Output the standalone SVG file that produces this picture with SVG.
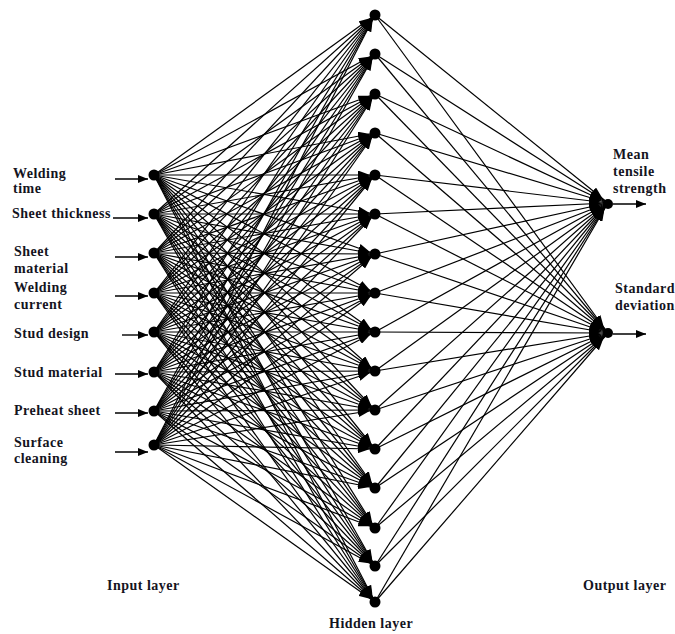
<svg xmlns="http://www.w3.org/2000/svg" width="675" height="634" viewBox="0 0 675 634">
<style>
text{font-family:"Liberation Serif","Times New Roman",serif;font-weight:bold;font-size:14px;fill:#14141e;letter-spacing:0.5px}
.c line{stroke:#000;stroke-width:1.2}
.ih line{marker-end:url(#ah1)}
.ho line{marker-end:url(#ah2)}
.io line{stroke:#000;stroke-width:1.4;marker-end:url(#ah3)}
.n{fill:#000}
</style>
<defs>
<marker id="ah1" markerUnits="userSpaceOnUse" markerWidth="12" markerHeight="9" refX="17" refY="4.5" orient="auto"><path d="M0,0 L12,4.5 L0,9 z" fill="#000"/></marker>
<marker id="ah2" markerUnits="userSpaceOnUse" markerWidth="12" markerHeight="9" refX="19" refY="4.5" orient="auto"><path d="M0,0 L12,4.5 L0,9 z" fill="#000"/></marker>
<marker id="ah3" markerUnits="userSpaceOnUse" markerWidth="10" markerHeight="8" refX="10" refY="4" orient="auto"><path d="M0,0 L10,4 L0,8 z" fill="#000"/></marker>
</defs>
<rect width="675" height="634" fill="#fff"/>
<g id="connectors" class="c">
<g class="ih">
<line x1="154" y1="175" x2="375" y2="15"/><line x1="154" y1="175" x2="375" y2="54"/><line x1="154" y1="175" x2="375" y2="94"/><line x1="154" y1="175" x2="375" y2="133"/><line x1="154" y1="175" x2="375" y2="175"/><line x1="154" y1="175" x2="375" y2="214"/><line x1="154" y1="175" x2="375" y2="254"/><line x1="154" y1="175" x2="375" y2="293"/><line x1="154" y1="175" x2="375" y2="332"/><line x1="154" y1="175" x2="375" y2="371"/><line x1="154" y1="175" x2="375" y2="410"/><line x1="154" y1="175" x2="375" y2="449"/><line x1="154" y1="175" x2="375" y2="488"/><line x1="154" y1="175" x2="375" y2="528"/><line x1="154" y1="175" x2="375" y2="566"/><line x1="154" y1="175" x2="375" y2="602"/>
<line x1="154" y1="214" x2="375" y2="15"/><line x1="154" y1="214" x2="375" y2="54"/><line x1="154" y1="214" x2="375" y2="94"/><line x1="154" y1="214" x2="375" y2="133"/><line x1="154" y1="214" x2="375" y2="175"/><line x1="154" y1="214" x2="375" y2="214"/><line x1="154" y1="214" x2="375" y2="254"/><line x1="154" y1="214" x2="375" y2="293"/><line x1="154" y1="214" x2="375" y2="332"/><line x1="154" y1="214" x2="375" y2="371"/><line x1="154" y1="214" x2="375" y2="410"/><line x1="154" y1="214" x2="375" y2="449"/><line x1="154" y1="214" x2="375" y2="488"/><line x1="154" y1="214" x2="375" y2="528"/><line x1="154" y1="214" x2="375" y2="566"/><line x1="154" y1="214" x2="375" y2="602"/>
<line x1="154" y1="253" x2="375" y2="15"/><line x1="154" y1="253" x2="375" y2="54"/><line x1="154" y1="253" x2="375" y2="94"/><line x1="154" y1="253" x2="375" y2="133"/><line x1="154" y1="253" x2="375" y2="175"/><line x1="154" y1="253" x2="375" y2="214"/><line x1="154" y1="253" x2="375" y2="254"/><line x1="154" y1="253" x2="375" y2="293"/><line x1="154" y1="253" x2="375" y2="332"/><line x1="154" y1="253" x2="375" y2="371"/><line x1="154" y1="253" x2="375" y2="410"/><line x1="154" y1="253" x2="375" y2="449"/><line x1="154" y1="253" x2="375" y2="488"/><line x1="154" y1="253" x2="375" y2="528"/><line x1="154" y1="253" x2="375" y2="566"/><line x1="154" y1="253" x2="375" y2="602"/>
<line x1="154" y1="293" x2="375" y2="15"/><line x1="154" y1="293" x2="375" y2="54"/><line x1="154" y1="293" x2="375" y2="94"/><line x1="154" y1="293" x2="375" y2="133"/><line x1="154" y1="293" x2="375" y2="175"/><line x1="154" y1="293" x2="375" y2="214"/><line x1="154" y1="293" x2="375" y2="254"/><line x1="154" y1="293" x2="375" y2="293"/><line x1="154" y1="293" x2="375" y2="332"/><line x1="154" y1="293" x2="375" y2="371"/><line x1="154" y1="293" x2="375" y2="410"/><line x1="154" y1="293" x2="375" y2="449"/><line x1="154" y1="293" x2="375" y2="488"/><line x1="154" y1="293" x2="375" y2="528"/><line x1="154" y1="293" x2="375" y2="566"/><line x1="154" y1="293" x2="375" y2="602"/>
<line x1="154" y1="332" x2="375" y2="15"/><line x1="154" y1="332" x2="375" y2="54"/><line x1="154" y1="332" x2="375" y2="94"/><line x1="154" y1="332" x2="375" y2="133"/><line x1="154" y1="332" x2="375" y2="175"/><line x1="154" y1="332" x2="375" y2="214"/><line x1="154" y1="332" x2="375" y2="254"/><line x1="154" y1="332" x2="375" y2="293"/><line x1="154" y1="332" x2="375" y2="332"/><line x1="154" y1="332" x2="375" y2="371"/><line x1="154" y1="332" x2="375" y2="410"/><line x1="154" y1="332" x2="375" y2="449"/><line x1="154" y1="332" x2="375" y2="488"/><line x1="154" y1="332" x2="375" y2="528"/><line x1="154" y1="332" x2="375" y2="566"/><line x1="154" y1="332" x2="375" y2="602"/>
<line x1="154" y1="372" x2="375" y2="15"/><line x1="154" y1="372" x2="375" y2="54"/><line x1="154" y1="372" x2="375" y2="94"/><line x1="154" y1="372" x2="375" y2="133"/><line x1="154" y1="372" x2="375" y2="175"/><line x1="154" y1="372" x2="375" y2="214"/><line x1="154" y1="372" x2="375" y2="254"/><line x1="154" y1="372" x2="375" y2="293"/><line x1="154" y1="372" x2="375" y2="332"/><line x1="154" y1="372" x2="375" y2="371"/><line x1="154" y1="372" x2="375" y2="410"/><line x1="154" y1="372" x2="375" y2="449"/><line x1="154" y1="372" x2="375" y2="488"/><line x1="154" y1="372" x2="375" y2="528"/><line x1="154" y1="372" x2="375" y2="566"/><line x1="154" y1="372" x2="375" y2="602"/>
<line x1="154" y1="411" x2="375" y2="15"/><line x1="154" y1="411" x2="375" y2="54"/><line x1="154" y1="411" x2="375" y2="94"/><line x1="154" y1="411" x2="375" y2="133"/><line x1="154" y1="411" x2="375" y2="175"/><line x1="154" y1="411" x2="375" y2="214"/><line x1="154" y1="411" x2="375" y2="254"/><line x1="154" y1="411" x2="375" y2="293"/><line x1="154" y1="411" x2="375" y2="332"/><line x1="154" y1="411" x2="375" y2="371"/><line x1="154" y1="411" x2="375" y2="410"/><line x1="154" y1="411" x2="375" y2="449"/><line x1="154" y1="411" x2="375" y2="488"/><line x1="154" y1="411" x2="375" y2="528"/><line x1="154" y1="411" x2="375" y2="566"/><line x1="154" y1="411" x2="375" y2="602"/>
<line x1="154" y1="445" x2="375" y2="15"/><line x1="154" y1="445" x2="375" y2="54"/><line x1="154" y1="445" x2="375" y2="94"/><line x1="154" y1="445" x2="375" y2="133"/><line x1="154" y1="445" x2="375" y2="175"/><line x1="154" y1="445" x2="375" y2="214"/><line x1="154" y1="445" x2="375" y2="254"/><line x1="154" y1="445" x2="375" y2="293"/><line x1="154" y1="445" x2="375" y2="332"/><line x1="154" y1="445" x2="375" y2="371"/><line x1="154" y1="445" x2="375" y2="410"/><line x1="154" y1="445" x2="375" y2="449"/><line x1="154" y1="445" x2="375" y2="488"/><line x1="154" y1="445" x2="375" y2="528"/><line x1="154" y1="445" x2="375" y2="566"/><line x1="154" y1="445" x2="375" y2="602"/>
</g>
<g class="ho">
<line x1="375" y1="15" x2="608" y2="203"/><line x1="375" y1="54" x2="608" y2="203"/><line x1="375" y1="94" x2="608" y2="203"/><line x1="375" y1="133" x2="608" y2="203"/><line x1="375" y1="175" x2="608" y2="203"/><line x1="375" y1="214" x2="608" y2="203"/><line x1="375" y1="254" x2="608" y2="203"/><line x1="375" y1="293" x2="608" y2="203"/><line x1="375" y1="332" x2="608" y2="203"/><line x1="375" y1="371" x2="608" y2="203"/><line x1="375" y1="410" x2="608" y2="203"/><line x1="375" y1="449" x2="608" y2="203"/><line x1="375" y1="488" x2="608" y2="203"/><line x1="375" y1="528" x2="608" y2="203"/><line x1="375" y1="566" x2="608" y2="203"/><line x1="375" y1="602" x2="608" y2="203"/>
<line x1="375" y1="15" x2="608" y2="333"/><line x1="375" y1="54" x2="608" y2="333"/><line x1="375" y1="94" x2="608" y2="333"/><line x1="375" y1="133" x2="608" y2="333"/><line x1="375" y1="175" x2="608" y2="333"/><line x1="375" y1="214" x2="608" y2="333"/><line x1="375" y1="254" x2="608" y2="333"/><line x1="375" y1="293" x2="608" y2="333"/><line x1="375" y1="332" x2="608" y2="333"/><line x1="375" y1="371" x2="608" y2="333"/><line x1="375" y1="410" x2="608" y2="333"/><line x1="375" y1="449" x2="608" y2="333"/><line x1="375" y1="488" x2="608" y2="333"/><line x1="375" y1="528" x2="608" y2="333"/><line x1="375" y1="566" x2="608" y2="333"/><line x1="375" y1="602" x2="608" y2="333"/>
</g>
<g class="io">
<line x1="115" y1="179" x2="148" y2="179"/>
<line x1="113" y1="218" x2="148" y2="218"/>
<line x1="115" y1="257" x2="148" y2="257"/>
<line x1="115" y1="296" x2="148" y2="296"/>
<line x1="122" y1="335" x2="148" y2="335"/>
<line x1="115" y1="374" x2="148" y2="374"/>
<line x1="115" y1="413" x2="148" y2="413"/>
<line x1="115" y1="452" x2="148" y2="452"/>
<line x1="613" y1="204" x2="646" y2="204"/>
<line x1="613" y1="334" x2="646" y2="334"/>
</g>
</g>
<g id="in1"><circle class="n" cx="154" cy="175" r="5.5"/><text x="13" y="178">Welding</text><text x="13" y="193">time</text></g>
<g id="in2"><circle class="n" cx="154" cy="214" r="5.5"/><text x="12" y="218">Sheet thickness</text></g>
<g id="in3"><circle class="n" cx="154" cy="253" r="5.5"/><text x="14" y="256">Sheet</text><text x="14" y="273">material</text></g>
<g id="in4"><circle class="n" cx="154" cy="293" r="5.5"/><text x="14" y="292">Welding</text><text x="14" y="309">current</text></g>
<g id="in5"><circle class="n" cx="154" cy="332" r="5.5"/><text x="14" y="338">Stud design</text></g>
<g id="in6"><circle class="n" cx="154" cy="372" r="5.5"/><text x="14" y="377">Stud material</text></g>
<g id="in7"><circle class="n" cx="154" cy="411" r="5.5"/><text x="14" y="415">Preheat sheet</text></g>
<g id="in8"><circle class="n" cx="154" cy="445" r="5.5"/><text x="14" y="447">Surface</text><text x="14" y="463">cleaning</text></g>
<g id="h1"><circle class="n" cx="375" cy="15" r="5.5"/></g>
<g id="h2"><circle class="n" cx="375" cy="54" r="5.5"/></g>
<g id="h3"><circle class="n" cx="375" cy="94" r="5.5"/></g>
<g id="h4"><circle class="n" cx="375" cy="133" r="5.5"/></g>
<g id="h5"><circle class="n" cx="375" cy="175" r="5.5"/></g>
<g id="h6"><circle class="n" cx="375" cy="214" r="5.5"/></g>
<g id="h7"><circle class="n" cx="375" cy="254" r="5.5"/></g>
<g id="h8"><circle class="n" cx="375" cy="293" r="5.5"/></g>
<g id="h9"><circle class="n" cx="375" cy="332" r="5.5"/></g>
<g id="h10"><circle class="n" cx="375" cy="371" r="5.5"/></g>
<g id="h11"><circle class="n" cx="375" cy="410" r="5.5"/></g>
<g id="h12"><circle class="n" cx="375" cy="449" r="5.5"/></g>
<g id="h13"><circle class="n" cx="375" cy="488" r="5.5"/></g>
<g id="h14"><circle class="n" cx="375" cy="528" r="5.5"/></g>
<g id="h15"><circle class="n" cx="375" cy="566" r="5.5"/></g>
<g id="h16"><circle class="n" cx="375" cy="602" r="5.5"/></g>
<g id="out1"><circle class="n" cx="608" cy="204" r="5"/><text x="613" y="159">Mean</text><text x="613" y="176">tensile</text><text x="613" y="193">strength</text></g>
<g id="out2"><circle class="n" cx="608" cy="333" r="5"/><text x="615" y="293">Standard</text><text x="615" y="310">deviation</text></g>
<g id="labels"><text x="107" y="590">Input layer</text><text x="329" y="628">Hidden layer</text><text x="583" y="590">Output layer</text></g>
</svg>
